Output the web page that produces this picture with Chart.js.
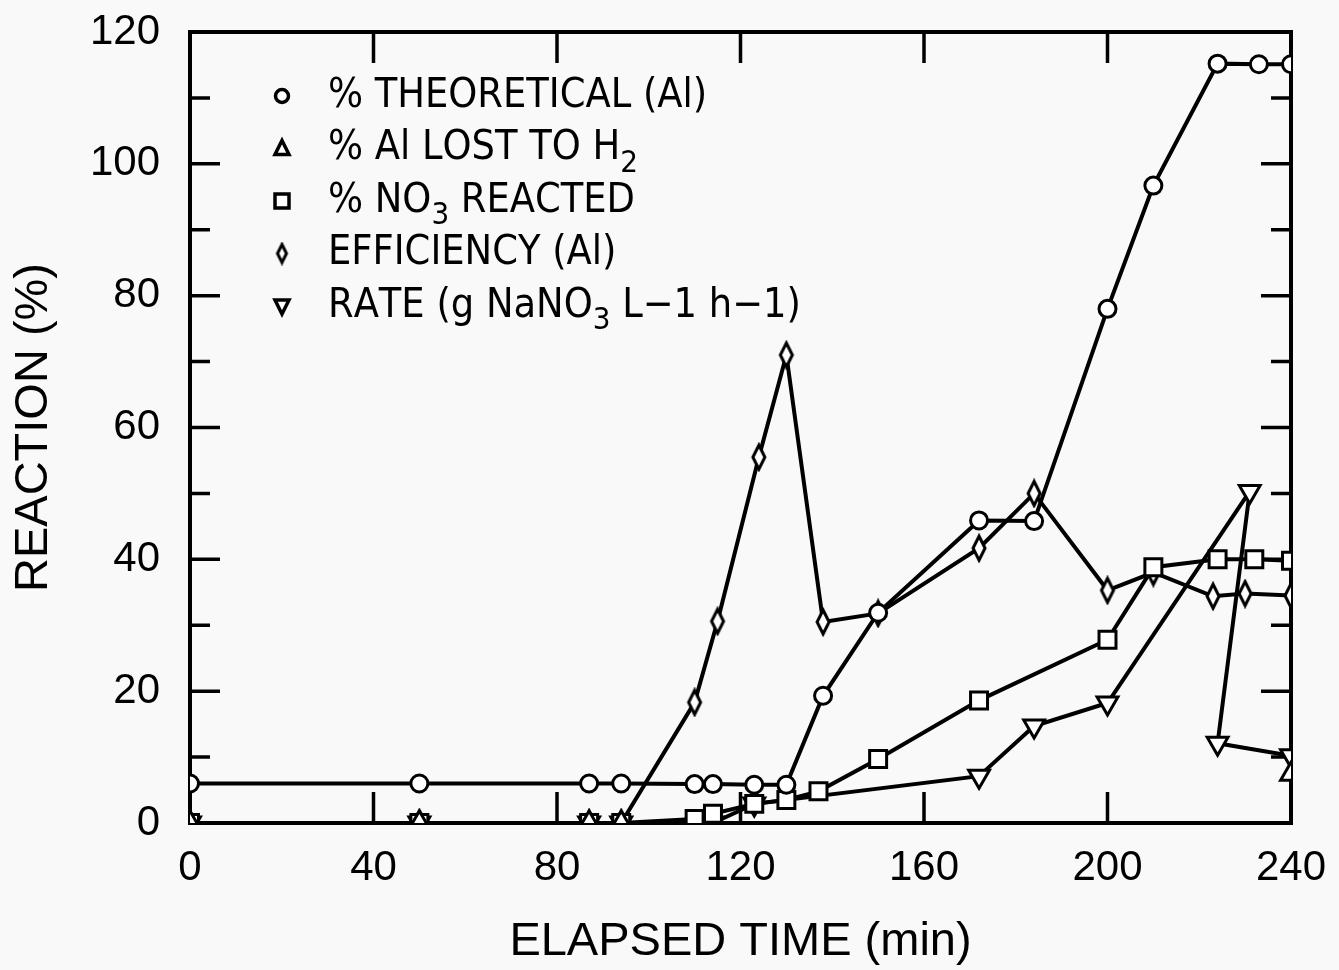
<!DOCTYPE html>
<html>
<head>
<meta charset="utf-8">
<script src="https://cdn.jsdelivr.net/npm/chart.js@4.4.0/dist/chart.umd.min.js"></script>
<style>
  html, body { margin: 0; padding: 0; background: #f9f9f9; }
  #wrap { width: 1339px; height: 970px; }
</style>
</head>
<body>
<div id="wrap"><canvas id="chart" width="1339" height="970"></canvas></div>
<script>
// values: elapsed time (min) vs reaction (%)
const theoTime = [0, 50, 87, 94, 110, 114, 123, 130, 138, 150, 172, 184, 200, 210, 224, 233, 240];
const theoPct  = [6, 6, 6, 6, 5.9, 5.9, 5.8, 5.8, 19.3, 31.9, 45.9, 45.8, 78, 96.7, 115.2, 115.1, 115.1];

const h2Time = [0, 50, 87, 94, 240];
const h2Pct  = [0, 0, 0, 0, 7.4];

const no3Time = [0, 50, 87, 94, 110, 114, 123, 130, 137, 150, 172, 200, 210, 224, 232, 240];
const no3Pct  = [0, 0, 0, 0, 0.6, 1.4, 2.9, 3.5, 4.8, 9.7, 18.6, 27.8, 38.8, 40, 40, 39.8];

const effTime = [0, 50, 87, 94, 110, 115, 124, 130, 138, 150, 172, 184, 200, 210, 223, 230, 240];
const effPct  = [0, 0, 0, 0, 18.3, 30.6, 55.5, 71, 30.5, 31.8, 41.7, 50, 35.3, 38, 34.4, 34.8, 34.5];

const rateTime = [0, 50, 87, 94, 114, 123, 172, 184, 200, 231, 224, 240];
const rateVal  = [0, 0, 0, 0, 0, 2.9, 7.1, 14.7, 18.2, 50.3, 12.1, 10.2];

const xTicks = [0, 40, 80, 120, 160, 200, 240];
const yTicks = [0, 20, 40, 60, 80, 100, 120];

const labels = [
  '% THEORETICAL (Al)',
  '% Al LOST TO H\u2082',
  '% NO\u2083 REACTED',
  'EFFICIENCY (Al)',
  'RATE (g NaNO\u2083 L\u22121 h\u22121)'
];

const toXY = (xs, ys) => xs.map((x, i) => ({ x: x, y: ys[i] }));

// narrow diamond marker
function diamond(w, h, lw) {
  const c = document.createElement('canvas');
  c.width = w + lw * 2;
  c.height = h + lw * 2;
  const g = c.getContext('2d');
  g.beginPath();
  g.moveTo(c.width / 2, lw);
  g.lineTo(c.width - lw, c.height / 2);
  g.lineTo(c.width / 2, c.height - lw);
  g.lineTo(lw, c.height / 2);
  g.closePath();
  g.fillStyle = '#fff';
  g.fill();
  g.lineWidth = lw;
  g.strokeStyle = '#000';
  g.stroke();
  return c;
}
const dataDiamond = diamond(12, 24, 3);
const legendDiamond = diamond(9, 18, 3);

const base = {
  showLine: true,
  borderColor: '#000',
  borderWidth: 4,
  pointBackgroundColor: '#fff',
  pointBorderColor: '#000',
  pointBorderWidth: 3,
  tension: 0
};

// frame + inward ticks like the original plot
const frameTicks = {
  id: 'frameTicks',
  beforeDatasetsDraw(chart) {
    const { ctx, chartArea: a, scales: { x, y } } = chart;
    ctx.save();
    ctx.strokeStyle = '#000';
    ctx.lineWidth = 4;
    ctx.strokeRect(a.left, a.top, a.right - a.left, a.bottom - a.top);
    ctx.lineWidth = 3.5;
    ctx.beginPath();
    for (let v = 10; v < 120; v += 10) {
      const py = y.getPixelForValue(v);
      const len = v % 20 === 0 ? 30 : 20;
      ctx.moveTo(a.left, py); ctx.lineTo(a.left + len, py);
      ctx.moveTo(a.right, py); ctx.lineTo(a.right - len, py);
    }
    xTicks.slice(1, -1).forEach(v => {
      const px = x.getPixelForValue(v);
      ctx.moveTo(px, a.bottom); ctx.lineTo(px, a.bottom - 31);
      ctx.moveTo(px, a.top); ctx.lineTo(px, a.top + 31);
    });
    ctx.stroke();
    ctx.restore();
  }
};

const SUB = { '\u2082': '2', '\u2083': '3' };
const FAM = '"Liberation Sans Narrow", "DejaVu Sans Condensed", sans-serif';
function drawLabel(ctx, text, x, y) {
  ctx.fillStyle = '#000';
  ctx.textBaseline = 'middle';
  ctx.letterSpacing = '0px';
  for (const ch of text) {
    const s = SUB[ch] || ch;
    ctx.font = (SUB[ch] ? '31px ' : '41px ') + FAM;
    ctx.fillText(s, x, SUB[ch] ? y + 15 : y);
    x += ctx.measureText(s).width;
  }
}

function legendMarker(ctx, i, x, y) {
  ctx.fillStyle = '#fff';
  ctx.strokeStyle = '#000';
  ctx.lineWidth = 3.5;
  ctx.beginPath();
  if (i === 0) {
    ctx.arc(x, y, 6.5, 0, Math.PI * 2);
  } else if (i === 1) {
    ctx.moveTo(x, y - 8); ctx.lineTo(x + 7, y + 6); ctx.lineTo(x - 7, y + 6); ctx.closePath();
  } else if (i === 2) {
    ctx.rect(x - 7, y - 7, 14, 14);
  } else if (i === 3) {
    ctx.drawImage(legendDiamond, x - legendDiamond.width / 2, y - legendDiamond.height / 2);
    return;
  } else {
    ctx.moveTo(x, y + 8); ctx.lineTo(x + 7, y - 6); ctx.lineTo(x - 7, y - 6); ctx.closePath();
  }
  ctx.fill();
  ctx.stroke();
}

const legendBox = {
  id: 'legendBox',
  afterDraw(chart) {
    const { ctx, chartArea: a } = chart;
    ctx.save();
    chart.data.datasets.forEach((ds, i) => {
      const cy = a.top + 64 + i * 52.5;
      legendMarker(ctx, i, a.left + 92, cy);
      drawLabel(ctx, ds.label, a.left + 138, cy);
    });
    ctx.restore();
  }
};

Chart.defaults.font.family = '"Liberation Sans", Arial, sans-serif';
Chart.defaults.color = '#000';

new Chart(document.getElementById('chart').getContext('2d'), {
  type: 'scatter',
  data: {
    datasets: [
      Object.assign({}, base, { label: labels[0], data: toXY(theoTime, theoPct), pointStyle: 'circle', pointRadius: 8.5 }),
      Object.assign({}, base, {
        label: labels[1], data: toXY(h2Time, h2Pct), pointStyle: 'triangle', pointRadius: 12,
        segment: { borderColor: c => (c.p1DataIndex === h2Time.length - 1 ? 'rgba(0,0,0,0)' : '#000') }
      }),
      Object.assign({}, base, { label: labels[2], data: toXY(no3Time, no3Pct), pointStyle: 'rect', pointRadius: 12 }),
      Object.assign({}, base, { label: labels[3], data: toXY(effTime, effPct), pointStyle: dataDiamond }),
      Object.assign({}, base, { label: labels[4], data: toXY(rateTime, rateVal), pointStyle: 'triangle', pointRadius: 12, pointRotation: 180 })
    ]
  },
  options: {
    responsive: false,
    animation: false,
    devicePixelRatio: 1,
    layout: { padding: { left: 6, right: 48, top: 32, bottom: 0 } },
    plugins: {
      legend: { display: false },
      tooltip: { enabled: false }
    },
    scales: {
      x: {
        type: 'linear',
        min: 0,
        max: 240,
        afterBuildTicks: s => { s.ticks = xTicks.map(v => ({ value: v })); },
        afterFit: s => { s.height = 147; s.paddingLeft = 0; s.paddingRight = 0; },
        grid: { display: false, drawTicks: false },
        border: { display: false },
        ticks: { padding: 20, font: { size: 42 }, color: '#000' },
        title: { display: true, text: 'ELAPSED TIME (min)', font: { size: 47 }, padding: { top: 0, bottom: 0 }, color: '#000' }
      },
      y: {
        min: 0,
        max: 120,
        afterBuildTicks: s => { s.ticks = yTicks.map(v => ({ value: v })); },
        afterFit: s => { s.width = 184; s.paddingTop = 0; s.paddingBottom = 0; },
        grid: { display: false, drawTicks: false },
        border: { display: false },
        ticks: { padding: 30, font: { size: 42 }, color: '#000' },
        title: { display: true, text: 'REACTION (%)', font: { size: 47 }, padding: { top: 0, bottom: 0 }, color: '#000' }
      }
    }
  },
  plugins: [frameTicks, legendBox]
});
</script>
</body>
</html>
